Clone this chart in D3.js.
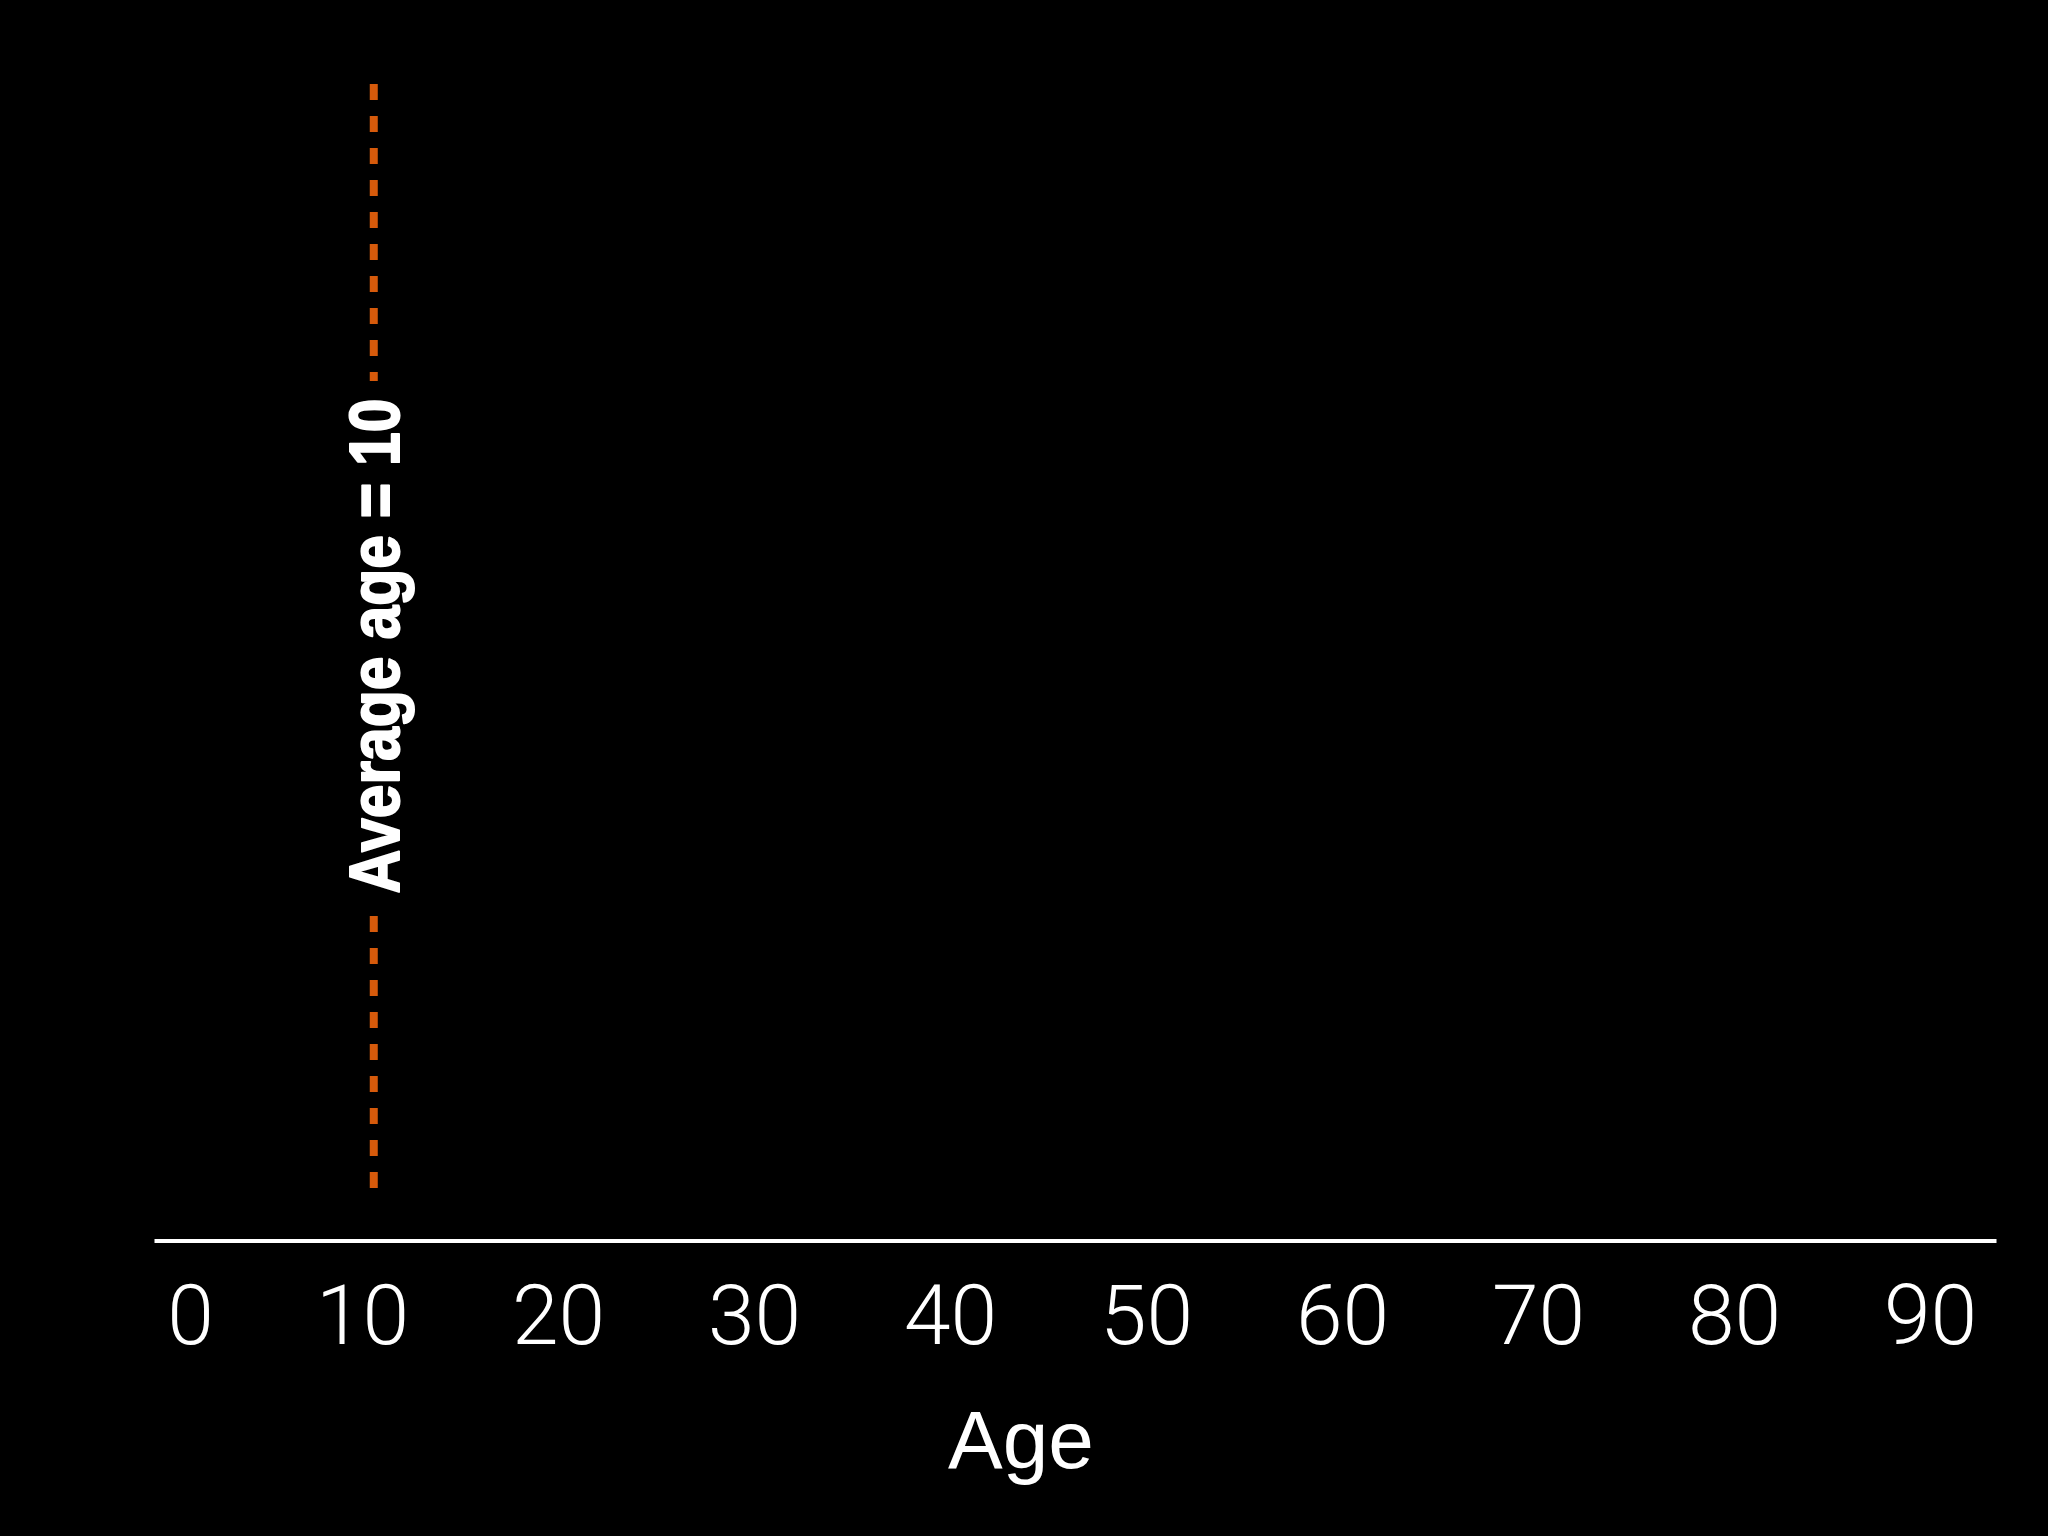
<!DOCTYPE html>
<html>
<head>
<meta charset="utf-8">
<script src="https://cdn.jsdelivr.net/npm/d3@7"></script>
<style>
  html, body { margin: 0; padding: 0; background: #000; }
  svg { display: block; }
</style>
</head>
<body>
<script>
// ---- data ----
const tickValues = [0, 10, 20, 30, 40, 50, 60, 70, 80, 90];
const tickLabels = ["0", "10", "20", "30", "40", "50", "60", "70", "80", "90"];
const xTitle = "Age";
const averageAge = 10;          // value in the annotation
const averageLineAge = 10.6;    // where the dashed line sits in the picture
const annotation = "Average age = " + averageAge;

// ---- layout ----
const W = 2048, H = 1536;
const svg = d3.select("body").append("svg").attr("width", W).attr("height", H);
svg.append("rect").attr("width", W).attr("height", H).attr("fill", "#000");

const x = d3.scaleLinear().domain([0, 90]).range([166, 1930]);
const axisY = 1241;
const lineTop = 84, lineBottom = 1188;
const orange = "#d65a0b";

// axis baseline
svg.append("line")
  .attr("x1", x.range()[0] - 11.5).attr("x2", x.range()[1] + 66.5)
  .attr("y1", axisY).attr("y2", axisY)
  .attr("stroke", "#ffffff").attr("stroke-width", 4);

// tick labels via d3 axis
const axis = d3.axisBottom(x)
  .tickValues(tickValues)
  .tickFormat((d, i) => tickLabels[i])
  .tickSize(0)
  .tickPadding(0);
const gAxis = svg.append("g").attr("transform", `translate(0,${axisY})`).call(axis);
gAxis.select(".domain").remove();
gAxis.selectAll("text")
  .attr("y", 103)
  .attr("dy", 0)
  .attr("dx", d => d === 0 ? 24 : 0)
  .attr("fill", "#ffffff")
  .style("font-family", "Roboto, 'Liberation Sans', sans-serif")
  .style("font-weight", 300)
  .style("font-size", "84px");

// x title
svg.append("text")
  .attr("x", (x(0) + x(90)) / 2 - 27)
  .attr("y", 1468)
  .attr("text-anchor", "middle")
  .attr("fill", "#ffffff")
  .style("font-family", "'Liberation Sans', Arial, Helvetica, sans-serif")
  .style("font-size", "82px")
  .text(xTitle);

// dashed average line
const ax = x(averageLineAge);
svg.append("line")
  .attr("x1", ax).attr("x2", ax)
  .attr("y1", lineTop).attr("y2", lineBottom)
  .attr("stroke", orange).attr("stroke-width", 8)
  .attr("stroke-dasharray", "16,16");

// knock-out behind annotation
svg.append("rect")
  .attr("x", ax - 30).attr("width", 60)
  .attr("y", 381).attr("height", 530)
  .attr("fill", "#000");

// rotated annotation
svg.append("text")
  .attr("transform", `translate(${ax + 25},646) rotate(-90)`)
  .attr("text-anchor", "middle")
  .attr("fill", "#ffffff")
  .attr("stroke", "#ffffff")
  .attr("stroke-width", 2)
  .attr("stroke-linejoin", "round")
  .attr("textLength", 495)
  .attr("lengthAdjust", "spacingAndGlyphs")
  .style("font-family", "'Liberation Sans Narrow', 'Liberation Sans', Arial, sans-serif")
  .style("font-weight", 700)
  .style("font-size", "70px")
  .text(annotation);
</script>
</body>
</html>
